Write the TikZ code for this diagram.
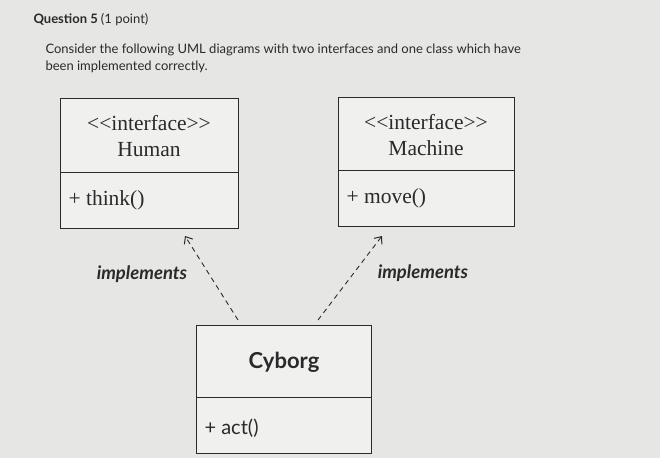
\documentclass[tikz,border=0pt]{standalone}
\usepackage{fontspec}
\setmainfont{Liberation Serif}
\newfontfamily\lato{Lato}
\usetikzlibrary{arrows.meta}
\definecolor{bg}{HTML}{E6E6E4}
\definecolor{txt}{HTML}{2A2A2A}
\begin{document}
\begin{tikzpicture}[x=1pt,y=-1pt,
  box/.style={draw=txt,line width=1pt,fill=bg!60!white},
  lbl/.style={text=txt,font=\fontsize{21.5}{26}\selectfont},
  impl/.style={draw=txt,line width=0.9pt,dash pattern=on 5pt off 4pt,-{Straight Barb[length=6pt,width=10pt,line width=1pt]}},
  it/.style={text=txt,font=\fontsize{18.5}{20}\selectfont\lato\bfseries\itshape}]
\useasboundingbox[fill=bg] (0,0) rectangle (660,458);
\node[anchor=west,text=txt,font=\fontsize{13}{15}\selectfont\lato\bfseries] (q) at (30,20) {Question 5 \mdseries(1 point)};
\node[anchor=west,text=txt,font=\fontsize{13}{15}\selectfont\lato] (t1) at (42,50) {Consider the following UML diagrams with two interfaces and one class which have};
\node[anchor=west,text=txt,font=\fontsize{13}{15}\selectfont\lato] (t2) at (42,67) {been implemented correctly.};
% Human
\draw[box] (60,98) rectangle (238,228);
\draw[box] (60,172) -- (238,172);
\node[lbl,align=center] (h) at (149,136) {{<}{<}interface{>}{>}\\Human};
\node[lbl,anchor=west] (ht) at (65,200) {+ think()};
\coordinate (hb) at (185,236);
% Machine
\draw[box] (338,97) rectangle (514,226);
\draw[box] (338,170) -- (514,170);
\node[lbl,align=center] (m) at (426,135) {{<}{<}interface{>}{>}\\Machine};
\node[lbl,anchor=west] (mm) at (343,198) {+ move()};
\coordinate (mb) at (382,236);
% Cyborg
\draw[box] (196,325) rectangle (371,453);
\draw[box] (196,397) -- (371,397);
\node[text=txt,font=\fontsize{22}{24}\selectfont\lato\bfseries] (c) at (284,362) {Cyborg};
\node[text=txt,anchor=west,font=\fontsize{20}{22}\selectfont\lato] (ca) at (201,428) {+ act()};
\coordinate (c1) at (238,320);
\coordinate (c2) at (318,320);
\draw[impl] (c1) -- (hb);
\draw[impl] (c2) -- (mb);
\node[it] (i1) at (142,274) {implements};
\node[it] (i2) at (423,273) {implements};
\end{tikzpicture}
\end{document}
